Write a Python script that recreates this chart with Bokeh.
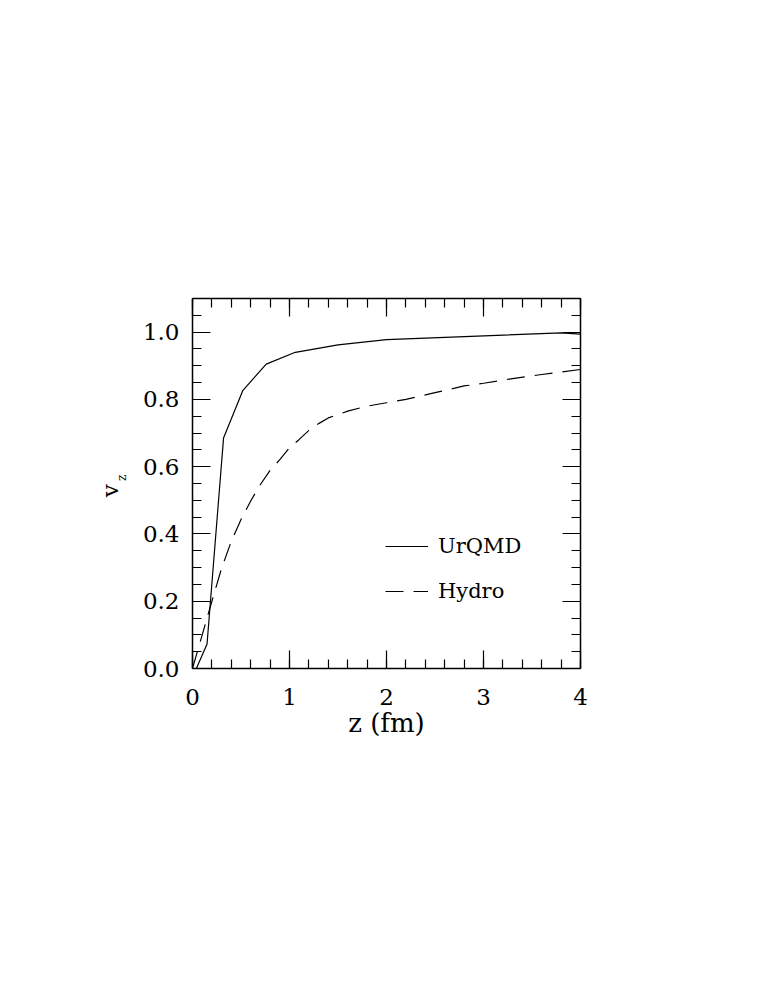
from bokeh.plotting import figure
from bokeh.models import (LinearAxis, SingleIntervalTicker, PrintfTickFormatter,
                          CustomJSTickFormatter, Legend, LegendItem, Range1d)
from bokeh.embed import file_html
from bokeh.resources import INLINE

# ---- data ----
urqmd_z = [0.04, 0.15, 0.32, 0.52, 0.76, 1.06, 1.5, 2.0, 3.8, 4.0]
urqmd_v = [0.0, 0.073, 0.685, 0.827, 0.905, 0.94, 0.962, 0.978, 0.998, 0.994]

hydro_z = [0.0, 0.1, 0.2, 0.3, 0.4, 0.5, 0.6, 0.7, 0.8, 0.9, 1.0, 1.1, 1.2, 1.3,
           1.4, 1.5, 1.6, 1.8, 2.0, 2.2, 2.5, 2.8, 3.0, 3.3, 3.6, 4.0]
hydro_v = [0.0, 0.1, 0.2, 0.298, 0.378, 0.443, 0.498, 0.547, 0.589, 0.621, 0.656,
           0.681, 0.708, 0.728, 0.745, 0.755, 0.765, 0.78, 0.79, 0.80, 0.82, 0.84,
           0.848, 0.862, 0.874, 0.889]

x_label = "z (fm)"
y_label_main = "v"
y_label_sub = "z"
series_names = ["UrQMD", "Hydro"]

FONT = "DejaVu Serif"
NBSP = "\u00a0"

p = figure(frame_width=388, frame_height=370,
           x_range=Range1d(0, 4), y_range=Range1d(0, 1.1),
           output_backend="svg", toolbar_location=None,
           min_border_left=192, min_border_top=298,
           min_border_right=100, min_border_bottom=200,
           background_fill_color="white", border_fill_color="white")
p.outline_line_color = None
p.grid.visible = False

xt = SingleIntervalTicker(interval=1, num_minor_ticks=5)
yt = SingleIntervalTicker(interval=0.2, num_minor_ticks=4)


def style(ax):
    ax.axis_line_width = 1.5
    ax.axis_line_color = "black"
    ax.major_tick_in = 18
    ax.major_tick_out = 0
    ax.minor_tick_in = 9
    ax.minor_tick_out = 0
    ax.major_tick_line_width = 1.2
    ax.minor_tick_line_width = 1.2
    ax.major_tick_line_color = "black"
    ax.minor_tick_line_color = "black"
    ax.major_label_text_font = FONT
    ax.major_label_text_font_size = "23px"
    ax.major_label_text_color = "black"
    ax.axis_label_text_font = FONT
    ax.axis_label_text_font_size = "26px"
    ax.axis_label_text_font_style = "normal"
    ax.axis_label_text_color = "black"


def label_only(ax):
    style(ax)
    ax.axis_line_color = None
    ax.major_tick_line_color = None
    ax.minor_tick_line_color = None
    ax.major_tick_in = 0
    ax.minor_tick_in = 0
    ax.major_label_standoff = 0


p.xaxis.ticker = xt
p.yaxis.ticker = yt
p.xaxis.formatter = PrintfTickFormatter(format="%d")
p.yaxis.formatter = PrintfTickFormatter(format="%.1f")
for ax in p.xaxis + p.yaxis:
    style(ax)
p.xaxis.major_label_standoff = 20
p.yaxis.major_label_standoff = 13
p.xaxis.axis_label = x_label
p.xaxis.axis_label_standoff = 0

blank = CustomJSTickFormatter(code="return ''")
top = LinearAxis(ticker=xt, formatter=blank)
right = LinearAxis(ticker=yt, formatter=blank)
style(top)
style(right)
p.add_layout(top, "above")
p.add_layout(right, "right")

# y label "v" with subscript "z": two label-only axes stacked on the left
zaxis = LinearAxis(ticker=yt, formatter=blank, axis_label=NBSP * 3 + y_label_sub)
label_only(zaxis)
zaxis.axis_label_text_font_size = "12px"
zaxis.axis_label_standoff = 11
p.add_layout(zaxis, "left")

vaxis = LinearAxis(ticker=yt, formatter=blank, axis_label=y_label_main + NBSP * 2)
label_only(vaxis)
vaxis.axis_label_text_font_size = "23px"
vaxis.axis_label_standoff = -11
p.add_layout(vaxis, "left")

r1 = p.line(urqmd_z, urqmd_v, line_color="black", line_width=1.2)
r2 = p.line(hydro_z, hydro_v, line_color="black", line_width=1.2, line_dash="18 10")

legend = Legend(items=[LegendItem(label=series_names[0], renderers=[r1]),
                       LegendItem(label=series_names[1], renderers=[r2])],
                location=(193, 62), border_line_color=None,
                background_fill_alpha=0, padding=0, margin=0, spacing=15,
                glyph_width=43, glyph_height=30, label_height=30,
                label_standoff=10, label_text_font=FONT,
                label_text_font_size="21px", label_text_color="black")
p.add_layout(legend)

open("out.html", "w").write(file_html(p, INLINE))
